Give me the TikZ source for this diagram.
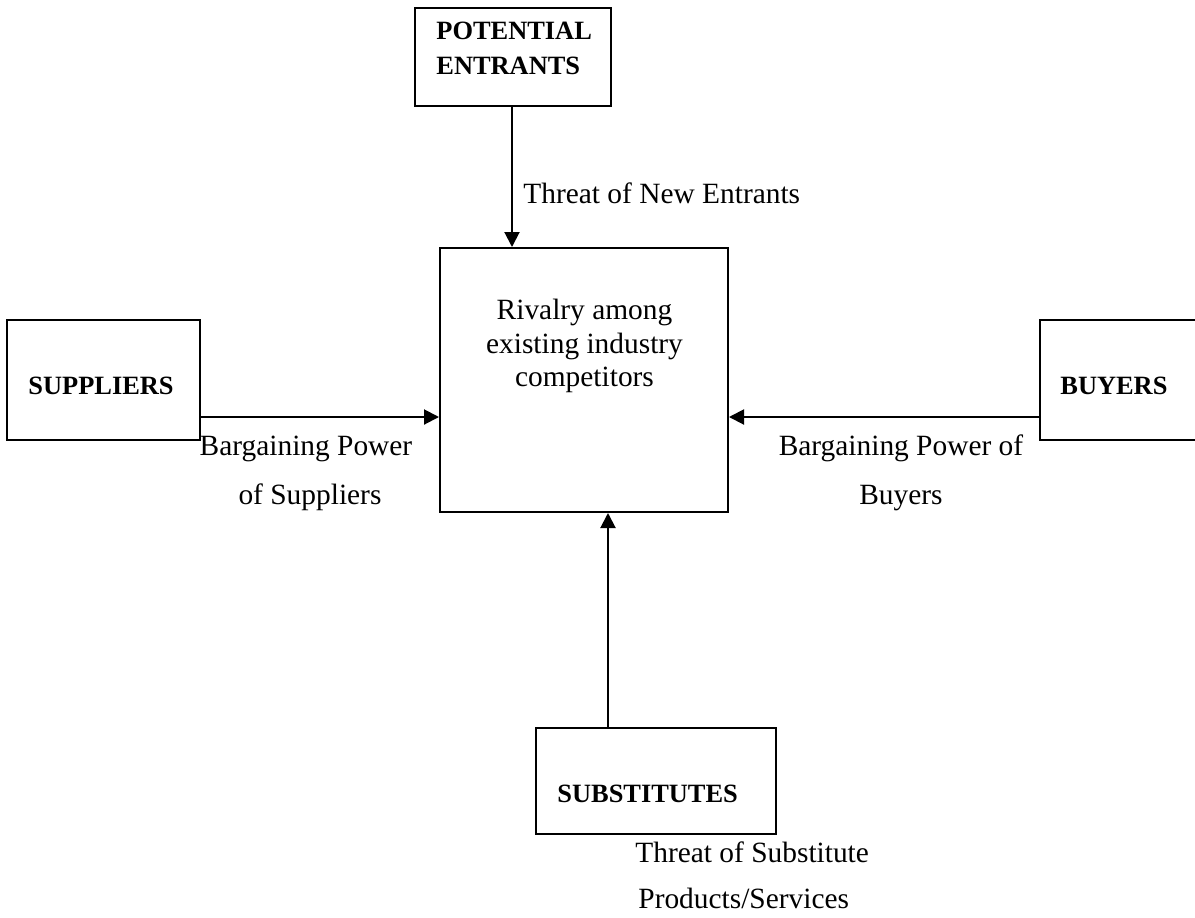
\documentclass[tikz,border=0pt]{standalone}
\usepackage{fontspec}
\setmainfont{Liberation Serif}
\usetikzlibrary{arrows.meta}
\begin{document}
\begin{tikzpicture}[x=0.5pt,y=-0.5pt,
  box/.style={draw,line width=1pt,rectangle,inner sep=0pt},
  arr/.style={line width=1pt,-{Triangle[length=7.5pt,width=7.5pt]}},
  boldtxt/.style={inner sep=0pt,font=\fontsize{13.2pt}{17.5pt}\selectfont\bfseries},
  lbl/.style={inner sep=0pt,font=\fontsize{14.7pt}{17pt}\selectfont}]
\useasboundingbox (0,0) rectangle (1195,917);
% boxes
\node[box,minimum width=98pt,minimum height=49pt] (pot) at (513,57) {};
\node[box,minimum width=144pt,minimum height=132pt] (cen) at (584,380) {};
\node[box,minimum width=96.5pt,minimum height=60pt] (sup) at (103.5,380) {};
\node[box,minimum width=100pt,minimum height=60pt] (buy) at (1140,380) {};
\node[box,minimum width=120pt,minimum height=53pt] (sub) at (656,781) {};
% box texts
\node[boldtxt,anchor=base west] (potA) at (436,39) {POTENTIAL};
\node[boldtxt,anchor=base west] (potB) at (436,74) {ENTRANTS};
\node[boldtxt,anchor=base west] (supT) at (28,394) {SUPPLIERS};
\node[boldtxt,anchor=base west] (buyT) at (1060,394) {BUYERS};
\node[boldtxt,anchor=base west] (subT) at (557,802) {SUBSTITUTES};
\node[lbl,anchor=base] (cenA) at (584.5,319) {Rivalry among};
\node[lbl,anchor=base] (cenB) at (584.5,353) {existing industry};
\node[lbl,anchor=base] (cenC) at (584.5,386) {competitors};
% connector labels
\node[lbl,anchor=base west] (lNew) at (523,203) {Threat of New Entrants};
\node[lbl,anchor=base] (lSupA) at (306,455) {Bargaining Power};
\node[lbl,anchor=base] (lSupB) at (310,504) {of Suppliers};
\node[lbl,anchor=base] (lBuyA) at (901,455) {Bargaining Power of};
\node[lbl,anchor=base] (lBuyB) at (901,504) {Buyers};
\node[lbl,anchor=base west] (lSubA) at (635,862) {Threat of Substitute};
\node[lbl,anchor=base west] (lSubB) at (638,908) {Products/Services};
% connectors
\draw[arr] ([xshift=-0.5pt]pot.south) -- ([xshift=-0.5pt]pot.south |- cen.north);
\draw[arr] ([yshift=-18.5pt]sup.east) -- ([yshift=-18.5pt]sup.east -| cen.west);
\draw[arr] ([yshift=-18.5pt]buy.west) -- ([yshift=-18.5pt]buy.west -| cen.east);
\draw[arr] ([xshift=-24pt]sub.north) -- ([xshift=-24pt]sub.north |- cen.south);
\end{tikzpicture}
\end{document}
